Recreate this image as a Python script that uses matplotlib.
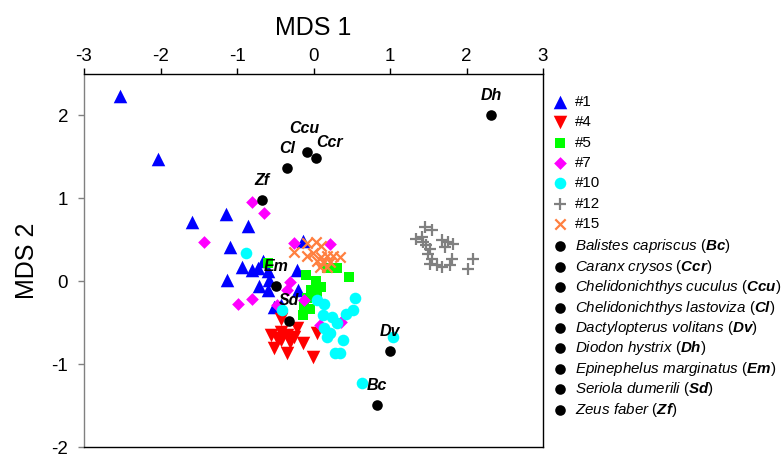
import matplotlib
matplotlib.use("Agg")
import matplotlib.pyplot as plt

plt.rcParams['font.family'] = ['Liberation Sans', 'DejaVu Sans']
plt.rcParams['mathtext.fontset'] = 'custom'
plt.rcParams['mathtext.rm'] = 'Liberation Sans'
plt.rcParams['mathtext.it'] = 'Liberation Sans:italic'
plt.rcParams['mathtext.bf'] = 'Liberation Sans:italic:bold'

# ---- data ----
g1_x = [-2.53, -2.03, -1.59, -1.14, -0.85, -1.09, -0.14, -1.13, -0.93, -0.81, -0.73, -0.66,
        -0.60, -0.71, -0.59, -0.58, -0.22, -0.20, -0.51, -0.42]
g1_y = [2.24, 1.47, 0.71, 0.81, 0.67, 0.41, 0.49, 0.02, 0.17, 0.13, 0.16, 0.24,
        0.12, -0.06, -0.10, 0.02, 0.14, -0.10, -0.31, -0.29]

g4_x = [-0.42, -0.55, -0.48, -0.42, -0.35, -0.25, -0.14, -0.51, -0.35, 0.04, -0.01, -0.42, -0.31, -0.21]
g4_y = [-0.45, -0.65, -0.69, -0.61, -0.65, -0.67, -0.75, -0.80, -0.87, -0.63, -0.92, -0.71, -0.73, -0.57]

g5_x = [-0.60, -0.10, 0.17, 0.31, 0.46, -0.03, 0.10, -0.08, -0.14, -0.04, 0.03, -0.13, 0.05]
g5_y = [0.22, 0.07, 0.16, 0.16, 0.05, -0.10, -0.07, -0.20, -0.41, -0.33, 0.00, -0.29, -0.17]

g7_x = [-0.81, -0.65, -1.43, -0.26, 0.21, -0.99, -0.80, -0.31, -0.35, -0.13, -0.48, 0.36, 0.08]
g7_y = [0.96, 0.82, 0.47, 0.46, 0.45, -0.27, -0.21, -0.01, -0.11, -0.23, -0.29, -0.49, -0.53]

g10_x = [-0.88, -0.41, 0.05, 0.14, 0.54, 0.51, 0.43, 0.12, 0.24, 0.31, 0.14, 0.21, 0.18,
         0.38, 0.28, 0.34, 1.04, 0.63]
g10_y = [0.34, -0.35, -0.23, -0.27, -0.20, -0.35, -0.40, -0.41, -0.43, -0.51, -0.57, -0.63, -0.67,
         -0.71, -0.86, -0.87, -0.67, -1.23]

g12_x = [1.455, 1.543, 1.346, 1.412, 1.433, 1.477, 1.520, 1.674, 1.760, 1.826, 1.717, 1.498,
         1.543, 1.608, 1.674, 1.805, 1.782, 2.088, 2.022, 1.520]
g12_y = [0.654, 0.614, 0.514, 0.534, 0.473, 0.434, 0.394, 0.494, 0.473, 0.454, 0.413, 0.334,
         0.273, 0.193, 0.172, 0.273, 0.193, 0.273, 0.153, 0.213]

g15_x = [-0.25, -0.09, -0.08, 0.03, 0.10, -0.01, 0.10, 0.17, 0.25, 0.34, 0.04, 0.12, 0.21, 0.08, 0.18]
g15_y = [0.35, 0.31, 0.46, 0.47, 0.43, 0.34, 0.29, 0.31, 0.31, 0.29, 0.25, 0.23, 0.23, 0.17, 0.17]

species_names = ["Balistes capriscus", "Caranx crysos", "Chelidonichthys cuculus",
                 "Chelidonichthys lastoviza", "Dactylopterus volitans", "Diodon hystrix",
                 "Epinephelus marginatus", "Seriola dumerili", "Zeus faber"]
species_codes = ["Bc", "Ccr", "Ccu", "Cl", "Dv", "Dh", "Em", "Sd", "Zf"]
species_x = [0.835, 0.035, -0.083, -0.35, 0.996, 2.32, -0.489, -0.315, -0.668]
species_y = [-1.49, 1.486, 1.554, 1.37, -0.84, 2.0, -0.052, -0.478, 0.976]

group_labels = ["#1", "#4", "#5", "#7", "#10", "#12", "#15"]
xticks = [-3, -2, -1, 0, 1, 2, 3]
yticks = [-2, -1, 0, 1, 2]

# label offsets (points) for the species codes
label_dx = [0, 9.5, -2, 0, 0, 0, 0, 0, 0]
label_dy = [14, 11, 17, 14, 14, 14, 14, 15, 14]

# ---- figure ----
fig = plt.figure(figsize=(7.83, 4.54), dpi=100)
ax = fig.add_axes([84/783, 1-447/454, (543-84)/783, (447-74)/454])

group_handles = []
group_handles.append(ax.scatter(g1_x, g1_y, marker='^', s=95, c='#0000ff', linewidths=0, label=group_labels[0]))
group_handles.append(ax.scatter(g4_x, g4_y, marker='v', s=95, c='#ff0000', linewidths=0, label=group_labels[1]))
group_handles.append(ax.scatter(g5_x, g5_y, marker='s', s=62, c='#00ff00', linewidths=0, label=group_labels[2]))
group_handles.append(ax.scatter(g7_x, g7_y, marker='D', s=42, c='#ff00ff', linewidths=0, label=group_labels[3]))
group_handles.append(ax.scatter(g10_x, g10_y, marker='o', s=70, c='#00ffff', linewidths=0, label=group_labels[4]))
group_handles.append(ax.scatter(g12_x, g12_y, marker='+', s=85, c='#808080', linewidths=1.6, label=group_labels[5]))
group_handles.append(ax.scatter(g15_x, g15_y, marker='x', s=55, c='#ff7f3f', linewidths=1.6, label=group_labels[6]))

species_handles = []
for i, (name, code, x, y) in enumerate(zip(species_names, species_codes, species_x, species_y)):
    nm = name.replace(" ", r"\ ")
    lab = r"$\mathit{" + nm + r"\ (}\mathbf{" + code + r"}\mathit{)}$"
    h = ax.scatter([x], [y], marker='o', s=58, c='black', linewidths=0, zorder=5, label=lab)
    species_handles.append(h)
    ax.annotate(code, (x, y), xytext=(label_dx[i], label_dy[i]), textcoords='offset points',
                ha='center', va='center', fontsize=11.5, fontweight='bold',
                fontstyle='italic', zorder=6)

ax.set_xlim(-3, 3)
ax.set_ylim(-2, 2.5)
ax.set_xticks(xticks)
ax.set_yticks(yticks)
ax.set_xticklabels([str(t) for t in xticks])
ax.set_yticklabels([str(t) for t in yticks])
ax.xaxis.tick_top()
ax.xaxis.set_label_position('top')
ax.tick_params(axis='x', direction='out', length=4, width=1, pad=2.5, labelsize=13.5, color='black')
ax.tick_params(axis='y', direction='out', length=4, width=1, pad=7.5, labelsize=13.5, color='#808080')
ax.set_xlabel('MDS 1', fontsize=18, labelpad=9)
ax.set_ylabel('MDS 2', fontsize=18, labelpad=9)
for sp in ['top', 'right', 'bottom']:
    ax.spines[sp].set_color('black')
    ax.spines[sp].set_linewidth(1)
ax.spines['left'].set_color('#808080')
ax.spines['left'].set_linewidth(1)

leg_kw = dict(loc='upper left', frameon=False, borderpad=0, handlelength=1.0,
              handletextpad=0.49, fontsize=10.9, scatterpoints=1, borderaxespad=0)
leg1 = fig.legend(handles=group_handles, bbox_to_anchor=(552.4/783, 1-95/454),
                  labelspacing=0.42, **leg_kw)
leg2 = fig.legend(handles=species_handles, bbox_to_anchor=(552.4/783, 1-237.3/454),
                  labelspacing=0.16, **leg_kw)

fig.savefig('out.png', dpi=100)
